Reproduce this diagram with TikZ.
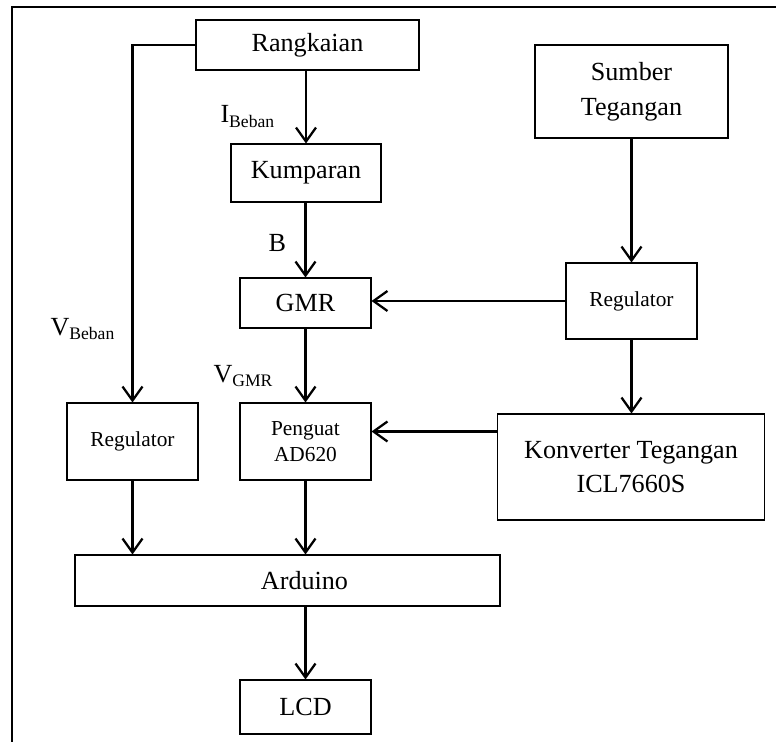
\documentclass[tikz,border=0pt]{standalone}
\usepackage{fontspec}
\setmainfont{Liberation Serif}
\usetikzlibrary{arrows.meta}

\tikzset{every picture/.style={line width=0.75pt}}
\tikzset{
  blok/.style={draw, rectangle, line width=0.8pt, inner sep=0pt, align=center,
    font=\fontsize{19.6}{26}\selectfont},
  blokkecil/.style={blok, font=\fontsize{16}{20}\selectfont},
  panah/.style={line width=1.7pt, -{Straight Barb[length=10.5pt,width=15pt]}},
  label/.style={anchor=base west, inner sep=0pt, font=\fontsize{19.6}{26}\selectfont}
}
\newcommand{\subidx}[1]{\raisebox{-3pt}{\fontsize{13.2}{14}\selectfont #1}}

\begin{document}
\begin{tikzpicture}[x=0.75pt,y=0.75pt,yscale=-1,xscale=1]
    \useasboundingbox (0,0) rectangle (776,742);

    % frame (top and left border)
    \draw [line width=1.5pt] (776,7) -- (12,7) -- (12,742);

    % Blocks
    \node [blok, minimum width=223*0.75pt, minimum height=50*0.75pt] (rangkaian) at (307.5,45) {Rangkaian};
    \node [blok, minimum width=150*0.75pt, minimum height=58*0.75pt] (kumparan) at (306,173) {Kumparan};
    \node [blok, minimum width=131*0.75pt, minimum height=50*0.75pt] (gmr) at (305.5,303) {GMR};
    \node [blokkecil, minimum width=131*0.75pt, minimum height=77*0.75pt] (penguat) at (305.5,441.5) {Penguat\\AD620};
    \node [blokkecil, minimum width=131*0.75pt, minimum height=77*0.75pt] (regkiri) at (132.5,441.5) {Regulator};
    \node [blok, minimum width=425*0.75pt, minimum height=51*0.75pt] (arduino) at (287.5,580.5) {\hspace*{25.5pt}Arduino};
    \node [blok, minimum width=131*0.75pt, minimum height=54*0.75pt] (lcd) at (305.5,707) {LCD};
    \node [blok, minimum width=193*0.75pt, minimum height=93*0.75pt] (sumber) at (631.5,91.5) {Sumber\\Tegangan};
    \node [blokkecil, minimum width=131*0.75pt, minimum height=76*0.75pt] (regkanan) at (631.5,301) {Regulator};
    \node [blok, minimum width=267*0.75pt, minimum height=106*0.75pt] (konverter) at (631,467) {Konverter Tegangan\\ICL7660S};

    % Connectors
    \draw [panah] (rangkaian.west) -| (regkiri.north);
    \draw [panah] (rangkaian.south -| kumparan.north) -- (kumparan.north);
    \draw [panah] (kumparan.south -| gmr.north) -- (gmr.north);
    \draw [panah] (gmr.south) -- (penguat.north);
    \draw [panah] (sumber.south) -- (regkanan.north);
    \draw [panah] (regkanan.west) -- (regkanan.west -| gmr.east);
    \draw [panah] (regkanan.south) -- (regkanan.south |- konverter.north);
    \draw [panah] ([yshift=-7.5pt]penguat.east -| konverter.west) -- ([yshift=-7.5pt]penguat.east);
    \draw [panah] (regkiri.south) -- (regkiri.south |- arduino.north);
    \draw [panah] (penguat.south) -- (penguat.south |- arduino.north);
    \draw [panah] (lcd.north |- arduino.south) -- (lcd.north);

    % Text Node
    \node [label] (ibeban) at (220,123) {I\subidx{Beban}};
    % Text Node
    \node [label] (medan) at (268,252) {B};
    % Text Node
    \node [label] (vgmr) at (213,382) {V\subidx{GMR}};
    % Text Node
    \node [label] (vbeban) at (50,335) {V\subidx{Beban}};

\end{tikzpicture}
\end{document}
